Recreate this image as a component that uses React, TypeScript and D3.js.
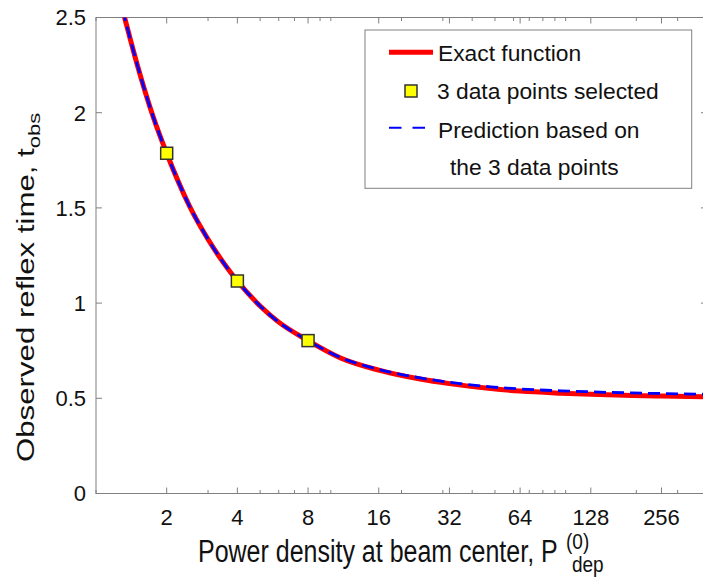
import React from "react";
import * as d3 from "d3";

const pGrid = [1, 1.2, 1.35, 1.5, 1.75, 2, 2.5, 3, 3.5, 4, 5, 6, 8, 11, 16, 24, 32, 48, 64, 96, 128, 192, 256, 400];
const exactT = [3.19, 2.71, 2.46, 2.25, 1.98, 1.787, 1.51, 1.335, 1.21, 1.116, 0.985, 0.9, 0.803, 0.712, 0.648, 0.601, 0.577, 0.551, 0.538, 0.527, 0.521, 0.515, 0.512, 0.508];
const predT = [3.19, 2.71, 2.46, 2.25, 1.98, 1.787, 1.51, 1.335, 1.21, 1.116, 0.985, 0.9, 0.803, 0.714, 0.652, 0.607, 0.584, 0.56, 0.549, 0.539, 0.534, 0.528, 0.525, 0.521];
const sampleP = [2, 4, 8];
const sampleT = [1.787, 1.116, 0.803];
const xTicks = [2, 4, 8, 16, 32, 64, 128, 256];
const yTicks = [0, 0.5, 1, 1.5, 2, 2.5];
const minorX = [1, 2, 3, 4, 5, 6, 7, 8, 9, 10, 20, 30, 40, 50, 60, 70, 80, 90, 100, 200, 300, 400];
const legendLabels = ["Exact function", "3 data points selected", "Prediction based on", "the 3 data points"];

const W = 703, H = 578;
const L = 96, R = 707, T = 17.5, B = 493.5;
const FONT = "'Liberation Sans', Arial, Helvetica, sans-serif";
const AXC = "#808080";

export default function App() {
  const x = d3.scaleLog().base(2).domain([1, 400]).range([L, R]);
  const y = d3.scaleLinear().domain([0, 2.5]).range([B, T]);
  const line = d3.line<number>().x((_, i) => x(pGrid[i])).y((d) => y(d)).curve(d3.curveMonotoneX);
  const majorLen = 6, minorLen = 3.5;
  return (
    <svg width={W} height={H} style={{ position: "absolute", left: 0, top: 0, background: "#fff" }} fontFamily={FONT}>
      <defs>
        <clipPath id="plot"><rect x={L} y={T} width={R - L} height={B - T} /></clipPath>
      </defs>
      <rect x={0} y={0} width={W} height={H} fill="#fff" />
      {minorX.filter((v) => !xTicks.includes(v)).map((v) => (
        <g key={"mx" + v} stroke={AXC} strokeWidth={1}>
          <line x1={x(v)} x2={x(v)} y1={B} y2={B - minorLen} />
          <line x1={x(v)} x2={x(v)} y1={T} y2={T + minorLen} />
        </g>
      ))}
      {xTicks.map((v) => (
        <g key={"x" + v}>
          <line x1={x(v)} x2={x(v)} y1={B} y2={B - majorLen} stroke={AXC} />
          <line x1={x(v)} x2={x(v)} y1={T} y2={T + majorLen} stroke={AXC} />
          <text x={x(v)} y={525} textAnchor="middle" fontSize={22} fill="#111">{v}</text>
        </g>
      ))}
      {yTicks.map((v) => (
        <g key={"y" + v}>
          <line x1={L} x2={L + majorLen} y1={y(v)} y2={y(v)} stroke={AXC} />
          <line x1={R} x2={R - majorLen} y1={y(v)} y2={y(v)} stroke={AXC} />
          <text x={86} y={y(v) + 7.8} textAnchor="end" fontSize={22} fill="#111">{v}</text>
        </g>
      ))}
      <rect x={L} y={T} width={R - L} height={B - T} fill="none" stroke={AXC} strokeWidth={1} />
      <g clipPath="url(#plot)">
        <path d={line(exactT) || ""} fill="none" stroke="#ff0000" strokeWidth={5} />
        <path d={line(predT) || ""} fill="none" stroke="#0000ff" strokeWidth={2.8} strokeDasharray="12,6" />
      </g>
      {sampleP.map((p, i) => (
        <rect key={"s" + p} x={x(p) - 6} y={y(sampleT[i]) - 6} width={12} height={12} fill="#ffff00" stroke="#333" strokeWidth={1.5} />
      ))}
      <rect x={365} y={30} width={326.7} height={158.3} fill="#fff" stroke={AXC} strokeWidth={1} />
      <line x1={389} x2={433} y1={52.3} y2={52.3} stroke="#ff0000" strokeWidth={5} />
      <text x={438} y={60.5} fontSize={22.8} fill="#111">{legendLabels[0]}</text>
      <rect x={411 - 6} y={91 - 6} width={12} height={12} fill="#ffff00" stroke="#333" strokeWidth={1.5} />
      <text x={437} y={99.3} fontSize={22.8} fill="#111">{legendLabels[1]}</text>
      <line x1={389} x2={427} y1={127.7} y2={127.7} stroke="#0000ff" strokeWidth={2} strokeDasharray="12.5,11" />
      <text x={438} y={137.7} fontSize={22.8} fill="#111">{legendLabels[2]}</text>
      <text x={450} y={175} fontSize={22.8} fill="#111">{legendLabels[3]}</text>
      <g transform="translate(198,561.7) scale(1,1.25)">
        <text x={0} y={0} fontSize={25} fill="#111">Power density at beam center, P</text>
      </g>
      <g transform="translate(566,549) scale(1,1.2)">
        <text x={0} y={0} fontSize={19} fill="#111">(0)</text>
      </g>
      <g transform="translate(572,572) scale(1,1.2)">
        <text x={0} y={0} fontSize={19} fill="#111">dep</text>
      </g>
      <g transform="translate(33.5,462) scale(1,1.3) rotate(-90)">
        <text x={0} y={0} fontSize={24} fill="#111">
          Observed reflex time, t<tspan fontSize={17} dy={6}>obs</tspan>
        </text>
      </g>
    </svg>
  );
}
